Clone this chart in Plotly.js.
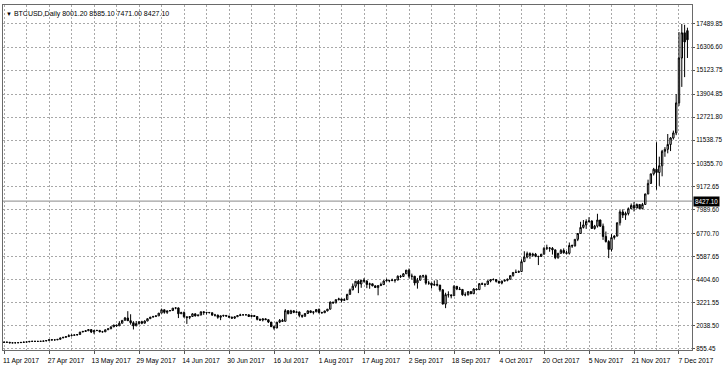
<!DOCTYPE html>
<html>
<head>
<meta charset="utf-8">
<script src="https://cdn.plot.ly/plotly-3.0.1.min.js"></script>
<style>html,body{margin:0;padding:0;background:#fff;}#chart{width:724px;height:370px;}</style>
</head>
<body>
<div id="chart"></div>
<script>
// BTCUSD daily bars, 11 Apr 2017 .. 10 Dec 2017
const startDate = '2017-04-11';
const openP = [
1190,1207,1200,1169,1168,1172,1180,1193,1209,1216,1243,1251,1245,1245,1250,1265,1285,1331,1317,1322,
1348,1421,1452,1490,1537,1555,1578,1596,1723,1755,1788,1848,1724,1804,1808,1739,1734,1839,1888,1987,2084,2041,2173,2320,2443,2304,2202,2038,2155,2255,2175,
2286,2407,2488,2515,2550,2691,2863,2732,2805,2823,2947,2958,2659,2717,2507,2464,2518,2656,2548,2590,2761,2721,2727,2711,2589,2590,2478,2553,2574,2540,
2481,2434,2506,2565,2602,2601,2608,2518,2571,2518,2373,2337,2398,2357,2233,1998,1929,2228,2318,2273,2817,2667,2811,2730,2754,2576,2529,2671,2809,2726,2758,
2875,2718,2710,2804,2895,3252,3213,3378,3419,3342,3381,3651,3884,4073,4325,4181,4376,4331,4160,4193,4087,4001,4100,4151,4334,4371,4352,4382,4382,4579,4565,
4703,4892,4578,4582,4236,4376,4598,4599,4228,4226,4122,4161,4130,3882,3154,3637,3625,3582,4065,3924,3905,3631,3630,3792,3682,3926,3892,4200,4174,4163,
4338,4403,4409,4317,4229,4328,4370,4426,4611,4773,4782,4819,5325,5563,5739,5648,5710,5600,5590,5708,6011,6031,6008,5930,5526,5750,5904,5780,5753,6153,6130,
6468,6767,7078,7207,7379,7407,7022,7144,7459,7143,6618,6357,5950,6559,6635,7315,7871,7708,7790,8036,8200,8071,8253,8038,8253,8791,9330,9818,10058,9889,
10233,10975,11075,11323,11657,11916,13450,15750,17040,17150
];
const highP = [
1215,1209,1204,1182,1187,1184,1197,1214,1219,1244,1259,1258,1256,1254,1267,1295,1334,1342,1327,1356,
1435,1473,1490,1608,1610,1578,1596,1723,1777,1820,1853,1848,1812,1822,1808,1782,1846,1905,2010,2086,2097,2279,2320,2495,2791,2634,2278,2290,2260,2301,2322,
2412,2495,2556,2568,2696,2922,2868,2818,2832,2950,2981,2980,2760,2779,2510,2543,2685,2668,2618,2763,2773,2746,2749,2724,2654,2614,2560,2603,2589,2552,
2517,2515,2595,2659,2622,2616,2608,2572,2573,2537,2413,2418,2425,2360,2240,2058,2235,2387,2397,2900,2839,2862,2833,2777,2757,2611,2693,2833,2815,2759,2886,
2934,2760,2807,2899,3290,3273,3397,3480,3425,3453,3679,3950,4208,4330,4397,4385,4485,4371,4250,4197,4109,4128,4255,4371,4458,4379,4455,4408,4626,4647,4745,
4900,4975,4714,4591,4492,4618,4655,4662,4345,4245,4358,4395,4131,3921,3733,3808,3644,4123,4072,4031,3917,3757,3819,3800,3971,3960,4210,4258,4214,4358,
4410,4470,4432,4352,4355,4416,4455,4626,4788,4923,4876,5446,5857,5839,5800,5780,5771,5620,5720,6070,6194,6075,6075,5935,5776,5976,6006,5873,6306,6201,6470,
6780,7367,7456,7493,7601,7445,7207,7776,7470,7275,6867,6426,6736,6682,7330,7964,8004,7884,8101,8303,8374,8303,8267,8333,8800,9522,9830,10125,11434,10699,
11046,11190,11859,11700,12033,13900,17080,17490,17450,17300
];
const lowP = [
1188,1196,1160,1164,1164,1170,1172,1190,1204,1212,1234,1225,1236,1240,1245,1264,1285,1300,1311,1313,
1346,1412,1446,1490,1501,1542,1537,1589,1722,1746,1779,1671,1616,1768,1708,1697,1727,1827,1888,1985,1993,2040,2173,2320,2360,2102,1855,2028,2107,2124,2171,
2282,2403,2472,2511,2550,2685,2662,2651,2790,2815,2888,2438,2658,2451,2139,2380,2511,2523,2543,2590,2603,2621,2696,2552,2516,2404,2332,2503,2530,2470,
2421,2394,2498,2563,2579,2584,2498,2484,2510,2321,2296,2268,2340,2183,1990,1843,1925,2178,2269,2269,2621,2660,2689,2700,2480,2450,2520,2652,2692,2626,2740,
2670,2668,2709,2783,2875,3183,3205,3345,3247,3319,3373,3635,3858,3989,3716,3988,4252,3969,3938,4069,3988,3603,4079,4134,4318,4269,4338,4252,4376,4488,4563,
4701,4469,4417,4108,3945,4370,4491,4146,4139,3952,4091,4062,3790,3140,2946,3487,3446,3570,3868,3869,3581,3553,3594,3675,3675,3884,3885,4134,4042,4155,
4269,4377,4258,4210,4164,4321,4318,4412,4560,4741,4751,4810,5322,5495,5472,5577,5555,5151,5583,5700,5919,5833,5688,5451,5476,5747,5732,5699,5689,6030,6103,
6377,6758,7024,7002,7325,7005,6964,7071,7101,6440,6300,5507,5844,6457,6620,7176,7561,7463,7694,8020,7895,8060,8020,8005,8245,8775,9320,9736,9009,9202,
9694,10694,10870,10985,11577,11800,13300,14270,14770,15750
];
const closeP = [
1207,1200,1169,1168,1172,1180,1193,1209,1216,1243,1251,1245,1245,1250,1265,1285,1331,1317,1322,1348,
1421,1452,1490,1537,1555,1578,1596,1723,1755,1788,1848,1724,1804,1808,1739,1734,1839,1888,1987,2084,2041,2173,2320,2443,2304,2202,2038,2155,2255,2175,2286,
2407,2488,2515,2550,2691,2863,2732,2805,2823,2947,2958,2659,2717,2507,2464,2518,2656,2548,2590,2761,2721,2727,2711,2589,2590,2478,2553,2574,2540,2481,
2434,2506,2565,2602,2601,2608,2518,2571,2518,2373,2337,2398,2357,2233,1998,1929,2228,2318,2273,2817,2667,2811,2730,2754,2576,2529,2671,2809,2726,2758,2875,
2718,2710,2804,2895,3252,3213,3378,3419,3342,3381,3651,3884,4073,4325,4181,4376,4331,4160,4193,4087,4001,4100,4151,4334,4371,4352,4382,4382,4579,4565,4703,
4892,4578,4582,4236,4376,4598,4599,4228,4226,4122,4161,4130,3882,3154,3637,3625,3582,4065,3924,3905,3631,3630,3792,3682,3926,3892,4200,4174,4163,4338,
4403,4409,4317,4229,4328,4370,4426,4611,4773,4782,4819,5325,5563,5739,5648,5710,5600,5590,5708,6011,6031,6008,5930,5526,5750,5904,5780,5753,6153,6130,6468,
6767,7078,7207,7379,7407,7022,7144,7459,7143,6618,6357,5950,6559,6635,7315,7871,7708,7790,8036,8200,8071,8253,8038,8253,8791,9330,9818,10058,9889,10233,
10975,11075,11323,11657,11916,13450,15750,17040,16570,16680
];
// price scale labels (right axis)
const priceTicks = [855.45,2038.50,3221.55,4404.60,5587.65,6770.70,7989.60,9172.65,10355.70,11538.75,12721.80,13904.85,15123.75,16306.60,17489.85];
// date labels (every 16 days) and grid every 8 days
const dateLabels = ['2017-04-11','2017-04-27','2017-05-13','2017-05-29','2017-06-14','2017-06-30','2017-07-16','2017-08-01','2017-08-17','2017-09-02','2017-09-18','2017-10-04','2017-10-20','2017-11-05','2017-11-21','2017-12-07'];
const dateLabelText = ['11 Apr 2017','27 Apr 2017','13 May 2017','29 May 2017','14 Jun 2017','30 Jun 2017','16 Jul 2017','1 Aug 2017','17 Aug 2017','2 Sep 2017','18 Sep 2017','4 Oct 2017','20 Oct 2017','5 Nov 2017','21 Nov 2017','7 Dec 2017'];
// header quote
const symbolName = 'BTCUSD,Daily';
const quoteOHLC = [8001.20, 8585.10, 7471.00, 8427.10];

const dates = [];
const d0 = new Date(startDate + 'T00:00:00Z');
for (let i = 0; i < closeP.length; i++) {
  const d = new Date(d0.getTime() + i * 86400000);
  dates.push(d.toISOString().slice(0, 10));
}

const FONT = 'Liberation Sans, Arial, sans-serif';
const gridCol = '#a8a8a8';

const trace = {
  type: 'candlestick',
  x: dates, open: openP, high: highP, low: lowP, close: closeP,
  increasing: {line: {color: '#000000', width: 1}, fillcolor: '#ffffff'},
  decreasing: {line: {color: '#000000', width: 1}, fillcolor: '#000000'},
  whiskerwidth: 0,
  hoverinfo: 'skip'
};

const layout = {
  width: 724, height: 370,
  margin: {l: 3, r: 32, t: 5, b: 20, pad: 0},
  paper_bgcolor: '#ffffff', plot_bgcolor: '#ffffff',
  showlegend: false,
  font: {family: FONT, size: 7, color: '#000'},
  xaxis: {
    type: 'date',
    range: ['2017-04-10 15:00', '2017-12-11 15:00'],
    rangeslider: {visible: false},
    tickvals: dateLabels, ticktext: dateLabelText,
    ticks: 'outside', ticklen: 3, tickcolor: '#555',
    ticklabelshift: 17, ticklabelstandoff: 1,
    tickfont: {family: FONT, size: 6.8, color: '#000'},
    showgrid: true, gridcolor: gridCol, griddash: '2px,2px', gridwidth: 1,
    minor: {tick0: '2017-04-11', dtick: 8 * 86400000, showgrid: true, gridcolor: gridCol, griddash: '2px,2px', gridwidth: 1, ticks: ''},
    showline: true, linecolor: '#6a6a6a', linewidth: 1, mirror: true,
    zeroline: false, fixedrange: true
  },
  yaxis: {
    side: 'right',
    range: [804, 18462],
    tickvals: priceTicks, tickformat: '.2f',
    ticks: 'outside', ticklen: 2, tickcolor: '#555',
    tickfont: {family: FONT, size: 6.3, color: '#000'},
    showgrid: true, gridcolor: gridCol, griddash: '2px,2px', gridwidth: 1,
    showline: true, linecolor: '#6a6a6a', linewidth: 1, mirror: true,
    zeroline: false, fixedrange: true
  },
  shapes: [{
    type: 'line', xref: 'paper', x0: 0, x1: 1, yref: 'y', y0: quoteOHLC[3], y1: quoteOHLC[3],
    line: {color: '#a0a0a0', width: 1.2}, layer: 'below'
  }],
  annotations: [
    {xref: 'paper', yref: 'y', x: 1, xanchor: 'left', xshift: 1, y: quoteOHLC[3], yanchor: 'middle',
     text: quoteOHLC[3].toFixed(2), showarrow: false, bgcolor: '#000000', borderpad: 1,
     font: {family: FONT, size: 6.3, color: '#ffffff'}},
    {xref: 'paper', yref: 'paper', x: 0, xanchor: 'left', xshift: 1, y: 1, yanchor: 'top', yshift: -3,
     text: '<span style="font-size:6px">▼</span> ' + symbolName + ' ' + quoteOHLC.map(v => v.toFixed(2)).join(' '),
     showarrow: false, font: {family: FONT, size: 7, color: '#000'}}
  ]
};

Plotly.newPlot('chart', [trace], layout, {staticPlot: true, displayModeBar: false});
</script>
</body>
</html>
